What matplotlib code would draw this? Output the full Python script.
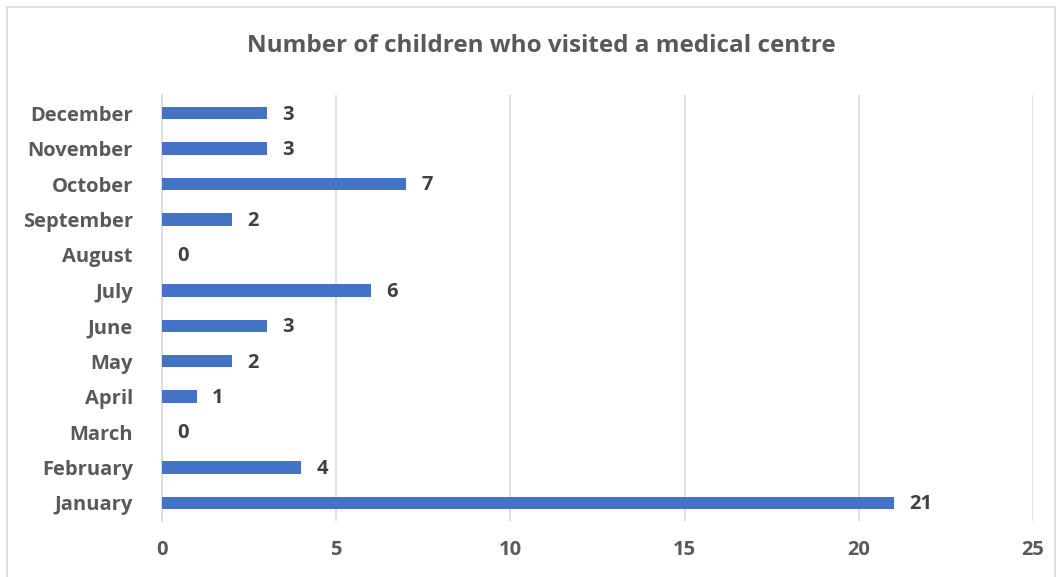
import matplotlib.pyplot as plt
from matplotlib.patches import Rectangle

months = ["January", "February", "March", "April", "May", "June",
          "July", "August", "September", "October", "November", "December"]
children = [21, 4, 0, 1, 2, 3, 6, 0, 2, 7, 3, 3]
x_ticks = [0, 5, 10, 15, 20, 25]

plt.rcParams['font.family'] = ['Open Sans', 'DejaVu Sans']

fig = plt.figure(figsize=(10.61, 5.77), dpi=100)
ax = fig.add_axes([0.1527, 0.0976, 0.8209, 0.7369])

bar_color = '#4472C4'
ax.barh(range(len(months)), children, height=0.35, color=bar_color, zorder=3)

# value labels to the right of each bar
for i, v in enumerate(children):
    ax.annotate(str(v), xy=(v, i), xytext=(11, -1), textcoords='offset points',
                ha='left', va='center', fontsize=14.5, fontweight='bold', color='#404040')

ax.set_xlim(0, 25)
ax.set_ylim(-0.5, len(months) - 0.5)
ax.set_xticks(x_ticks)
ax.set_yticks(range(len(months)))
ax.set_yticklabels(months)

ax.grid(axis='x', color='#D9D9D9', linewidth=1.2, zorder=0)
ax.grid(axis='y', visible=False)
for side in ['top', 'right', 'bottom']:
    ax.spines[side].set_visible(False)
ax.spines['left'].set_color('#D9D9D9')
ax.spines['left'].set_linewidth(1.2)
ax.tick_params(axis='both', length=0, labelsize=14.5, labelcolor='#595959')
ax.tick_params(axis='x', pad=14)
ax.tick_params(axis='y', pad=21)
for lbl in ax.get_xticklabels() + ax.get_yticklabels():
    lbl.set_fontweight('bold')

fig.text(0.51, 1 - 46 / 577, "Number of children who visited a medical centre",
         ha='center', va='center', fontsize=17.5, fontweight='bold', color='#595959')

# chart border
fig.patches.append(Rectangle((7 / 1061, -0.1), 1048 / 1061, 1.1 - 7 / 577,
                             transform=fig.transFigure, fill=False,
                             edgecolor='#D9D9D9', linewidth=1.2))

fig.savefig('out.png', dpi=100)
